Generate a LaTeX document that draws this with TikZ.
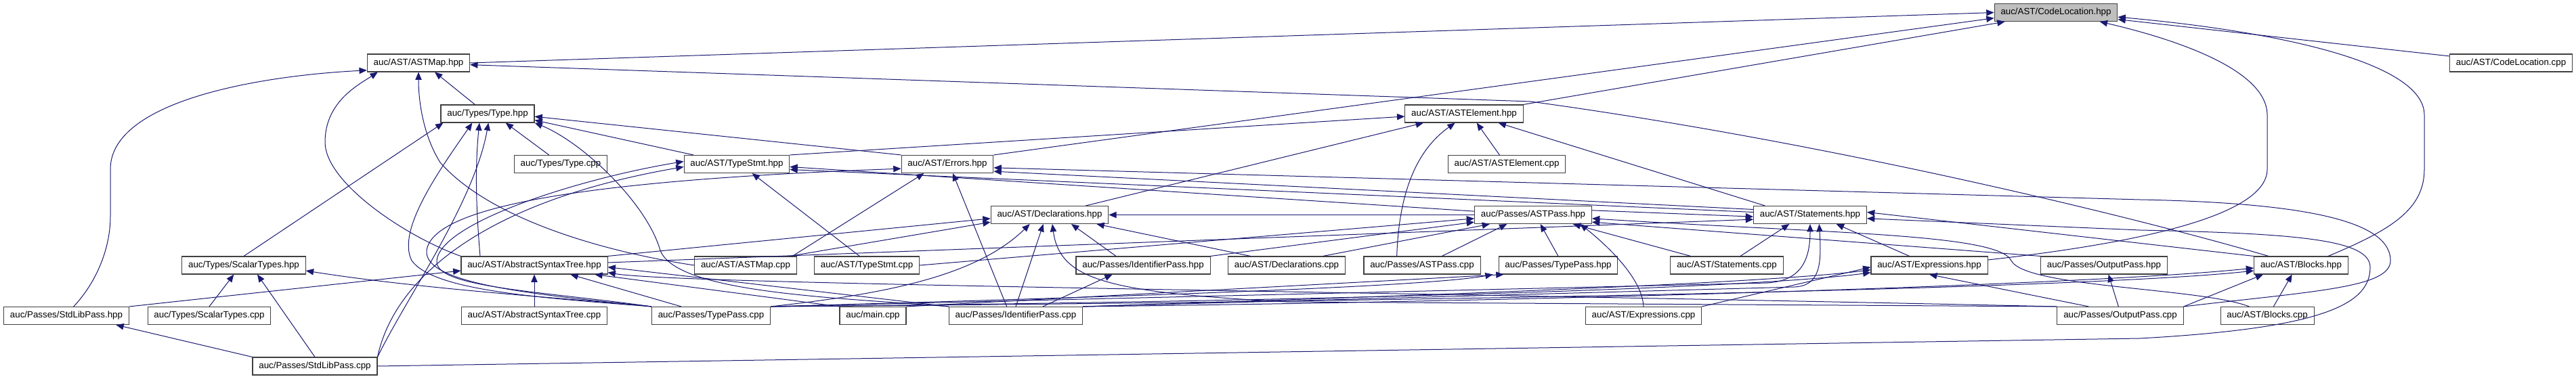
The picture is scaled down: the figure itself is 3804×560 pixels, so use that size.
\documentclass[tikz,border=0pt]{standalone}
\usepackage{fontspec}
\setmainfont{Liberation Sans}
\usetikzlibrary{arrows.meta}
\definecolor{EdgeBlue}{HTML}{191970}
\definecolor{BoxLine}{HTML}{404040}
\definecolor{RootGray}{HTML}{BFBFBF}

\begin{document}
\begin{tikzpicture}[
  x=0.75pt, y=-0.75pt,
  file/.style={draw=BoxLine, line width=0.8pt, fill=white, inner xsep=7pt, inner ysep=0pt,
               minimum height=19.5pt, font=\fontsize{10}{12}\selectfont},
  root/.style={file, fill=RootGray},
  dep/.style={EdgeBlue, line width=0.75pt, -{Triangle[length=8.5pt, width=7pt]}},
]
  \useasboundingbox (0,0) rectangle (3804,560);

  \node[root] (clh)         at (3036,18.5)  {auc/AST/CodeLocation.hpp};
  \node[file] (clcpp)       at (3708,93)    {auc/AST/CodeLocation.cpp};
  \node[file] (astmaph)     at (618,93)     {auc/AST/ASTMap.hpp};
  \node[file] (typeh)       at (720,168)    {auc/Types/Type.hpp};
  \node[file] (astelemh)    at (2162,168)   {auc/AST/ASTElement.hpp};
  \node[file] (typecpp)     at (828,242.5)  {auc/Types/Type.cpp};
  \node[file] (typestmth)   at (1088,242.5) {auc/AST/TypeStmt.hpp};
  \node[file] (errorsh)     at (1399,242.5) {auc/AST/Errors.hpp};
  \node[file] (astelemcpp)  at (2225,242.5) {auc/AST/ASTElement.cpp};
  \node[file] (declh)       at (1550,317.5) {auc/AST/Declarations.hpp};
  \node[file] (astpassh)    at (2264,317.5) {auc/Passes/ASTPass.hpp};
  \node[file] (stmth)       at (2673,317.5) {auc/AST/Statements.hpp};
  \node[file] (scalarh)     at (360,392)    {auc/Types/ScalarTypes.hpp};
  \node[file] (asth)        at (789,392)    {auc/AST/AbstractSyntaxTree.hpp};
  \node[file] (astmapcpp)   at (1101,392)   {auc/AST/ASTMap.cpp};
  \node[file] (typestmtcpp) at (1280,392)   {auc/AST/TypeStmt.cpp};
  \node[file] (identpassh)  at (1688,392)   {auc/Passes/IdentifierPass.hpp};
  \node[file] (declcpp)     at (1900,392)   {auc/AST/Declarations.cpp};
  \node[file] (astpasscpp)  at (2100,392)   {auc/Passes/ASTPass.cpp};
  \node[file] (typepassh)   at (2301,392)   {auc/Passes/TypePass.hpp};
  \node[file] (stmtcpp)     at (2550,392)   {auc/AST/Statements.cpp};
  \node[file] (exprh)       at (2849,392)   {auc/AST/Expressions.hpp};
  \node[file] (outputpassh) at (3107,392)   {auc/Passes/OutputPass.hpp};
  \node[file] (blocksh)     at (3398,392)   {auc/AST/Blocks.hpp};
  \node[file] (stdlibh)     at (98,466.5)   {auc/Passes/StdLibPass.hpp};
  \node[file] (scalarcpp)   at (309,466.5)  {auc/Types/ScalarTypes.cpp};
  \node[file] (astcpp)      at (789,466.5)  {auc/AST/AbstractSyntaxTree.cpp};
  \node[file] (typepasscpp) at (1050,466.5) {auc/Passes/TypePass.cpp};
  \node[file] (maincpp)     at (1289,466.5) {auc/main.cpp};
  \node[file] (identpasscpp) at (1500,466.5) {auc/Passes/IdentifierPass.cpp};
  \node[file] (exprcpp)     at (2427,466.5) {auc/AST/Expressions.cpp};
  \node[file] (outputpasscpp) at (3131,466.5) {auc/Passes/OutputPass.cpp};
  \node[file] (blockscpp)   at (3348,466.5) {auc/AST/Blocks.cpp};
  \node[file] (stdlibcpp)   at (465,541)    {auc/Passes/StdLibPass.cpp};

  \draw[dep] (clcpp) -- (clh);
  \draw[dep] (astmaph.east) -- (clh.west);
  \draw[dep] (errorsh.north east) -- ([yshift=4pt]clh.south west);
  \draw[dep] (astelemh.north east) -- ([xshift=12pt]clh.south west);
  \draw[dep] ([xshift=30pt]blocksh.north) .. controls (3530,340) and (3580,310) .. (3580,250) -- (3580,170) .. controls (3580,90) and (3350,45) .. ([yshift=-5pt]clh.east);
  \draw[dep] ([yshift=6pt]exprh.east) .. controls (3150,360) and (3348,320) .. (3348,250) -- (3348,170) .. controls (3348,100) and (3200,55) .. ([xshift=-20pt]clh.south east);

  \draw[dep] ([xshift=-14pt]typeh.north) -- ([xshift=18pt]astmaph.south);
  \draw[dep] ([xshift=-36pt]blocksh.north) .. controls (3150,320) and (2700,210) .. (2260,150) -- ([yshift=-2pt]astmaph.east);
  \draw[dep] ([xshift=8pt]stdlibh.north) .. controls (140,420) and (163,370) .. (163,320) -- (163,250) .. controls (163,150) and (380,112) .. ([yshift=2pt]astmaph.south west);
  \draw[dep] (asth.north west) .. controls (600,350) and (480,270) .. (480,210) .. controls (480,150) and (530,125) .. ([xshift=12pt]astmaph.south west);
  \draw[dep] (astmapcpp.west) .. controls (880,370) and (720,320) .. (650,240) .. controls (625,200) and (618,150) .. (astmaph.south);

  \draw[dep] (scalarh.north) -- ([xshift=3pt]typeh.south west);
  \draw[dep] ([xshift=-13pt]typecpp.north) -- ([xshift=20pt]typeh.south);
  \draw[dep] ([xshift=-48pt]typestmth.north) -- ([yshift=3pt]typeh.south east);
  \draw[dep] (errorsh.north west) -- ([yshift=7pt]typeh.south east);
  \draw[dep] (typepasscpp.north west) .. controls (800,440) and (640,430) .. (608,385) .. controls (585,340) and (650,250) .. ([xshift=-17pt]typeh.south);
  \draw[dep] ([xshift=-60pt]asth.north) .. controls (705,330) and (700,260) .. ([xshift=-9pt]typeh.south);
  \draw[dep] (stdlibcpp.north east) .. controls (600,440) and (700,300) .. ([xshift=1pt]typeh.south);
  \draw[dep] (identpasscpp.north west) .. controls (1250,440) and (1000,435) .. (975,370) .. controls (955,300) and (860,210) .. (typeh.south east);

  \draw[dep] (scalarcpp.north) -- ([xshift=-11pt]scalarh.south);
  \draw[dep] (stdlibcpp.north) -- ([xshift=15pt]scalarh.south);
  \draw[dep] (typepasscpp.north west) .. controls (900,445) and (640,430) .. ([yshift=-6pt]scalarh.east);
  \draw[dep] (stdlibcpp.north west) -- ([xshift=55pt]stdlibh.south);

  \draw[dep] (stdlibh.north east) -- ([yshift=-6pt]asth.west);
  \draw[dep] (astcpp) -- (asth);
  \draw[dep] ([xshift=-33pt]typepasscpp.north) -- ([xshift=40pt]asth.south);
  \draw[dep] (maincpp.north west) -- ([xshift=67pt]asth.south);
  \draw[dep] (identpasscpp.north west) -- ([yshift=-2pt]asth.east);
  \draw[dep] (outputpasscpp.north west) .. controls (2000,430) and (1000,420) .. ([yshift=-8pt]asth.east);

  \draw[dep] (typestmth.north east) -- ([yshift=-3pt]astelemh.west);
  \draw[dep] ([xshift=40pt]declh.north) -- ([xshift=-45pt]astelemh.south);
  \draw[dep] ([xshift=-28pt]astpasscpp.north) .. controls (2065,310) and (2080,230) .. ([xshift=-10pt]astelemh.south);
  \draw[dep] ([xshift=-8pt]astelemcpp.north) -- ([xshift=14pt]astelemh.south);
  \draw[dep] ([xshift=-50pt]stmth.north) -- ([xshift=38pt]astelemh.south);

  \draw[dep] ([xshift=-8pt]typestmtcpp.north) -- ([xshift=17pt]typestmth.south);
  \draw[dep] (typepasscpp.north west) .. controls (800,430) and (640,425) .. (645,385) .. controls (650,330) and (850,265) .. ([yshift=3pt]typestmth.west);
  \draw[dep] (stdlibcpp.north east) .. controls (580,420) and (700,300) .. ([yshift=-3pt]typestmth.west);
  \draw[dep] ([yshift=4pt]astpassh.west) -- ([yshift=-3pt]typestmth.east);
  \draw[dep] ([yshift=3pt]stmth.west) -- ([yshift=-6pt]typestmth.east);

  \draw[dep] ([xshift=-5pt]astmapcpp.north east) -- ([xshift=-26pt]errorsh.south);
  \draw[dep] ([xshift=-10pt]identpasscpp.north) -- ([xshift=6pt]errorsh.south);
  \draw[dep] (typepasscpp.north west) .. controls (790,435) and (625,420) .. (630,370) .. controls (640,300) and (900,265) .. ([yshift=-5pt]errorsh.west);
  \draw[dep] (outputpasscpp.north east) .. controls (3420,430) and (3530,425) .. (3530,385) .. controls (3530,330) and (3420,300) .. (3160,295) -- ([yshift=-4pt]errorsh.east);
  \draw[dep] ([yshift=6pt]stmth.west) -- ([yshift=-8pt]errorsh.east);

  \draw[dep] (asth.north east) -- ([yshift=-4pt]declh.west);
  \draw[dep] ([xshift=-8pt]astmapcpp.north east) -- ([yshift=-8pt]declh.west);
  \draw[dep] (typepasscpp.north east) .. controls (1300,435) and (1440,410) .. ([xshift=-22pt]declh.south);
  \draw[dep] (identpasscpp.north) -- ([xshift=-7pt]declh.south);
  \draw[dep] ([xshift=-30pt]identpassh.north) -- ([xshift=24pt]declh.south);
  \draw[dep] ([xshift=-40pt]declcpp.north) -- ([xshift=52pt]declh.south);
  \draw[dep] (astpassh.west) -- (declh.east);
  \draw[dep] (outputpasscpp.north west) -- (1900,446) .. controls (1640,432) and (1565,415) .. ([xshift=3pt]declh.south);

  \draw[dep] (typestmtcpp.east) -- ([yshift=-4pt]astpassh.west);
  \draw[dep] ([xshift=40pt]declcpp.north) -- ([xshift=-48pt]astpassh.south);
  \draw[dep] (identpassh.north east) -- ([yshift=-8pt]astpassh.west);
  \draw[dep] ([xshift=22pt]astpasscpp.north) -- ([xshift=-29pt]astpassh.south);
  \draw[dep] (typepassh.north) -- ([xshift=8pt]astpassh.south);
  \draw[dep] (exprcpp.north) .. controls (2425,410) and (2370,360) .. ([xshift=52pt]astpassh.south);
  \draw[dep] ([xshift=-40pt]stmtcpp.north) -- ([xshift=44pt]astpassh.south);
  \draw[dep] (outputpassh.north west) -- ([yshift=-8pt]astpassh.east);
  \draw[dep] ([xshift=-20pt]blockscpp.north) .. controls (3250,425) and (2990,425) .. (2970,385) .. controls (2950,345) and (2700,345) .. ([yshift=-4pt]astpassh.east);

  \draw[dep] ([yshift=5pt]astpassh.east) -- ([yshift=-2pt]stmth.west);
  \draw[dep] ([yshift=3pt]asth.east) -- ([yshift=-5pt]stmth.west);
  \draw[dep] ([xshift=15pt]stmtcpp.north) -- ([xshift=-23pt]stmth.south);
  \draw[dep] ([xshift=-22pt]exprh.north) -- ([xshift=29pt]stmth.south);
  \draw[dep] (blocksh.north west) -- ([yshift=3pt]stmth.east);
  \draw[dep] (stdlibcpp.east) -- (3160,500) .. controls (3430,485) and (3500,450) .. (3500,395) .. controls (3500,355) and (3400,345) .. (3160,340) -- ([yshift=-4pt]stmth.east);
  \draw[dep] (typepasscpp.north east) -- (2610,418) .. controls (2655,415) and (2673,390) .. (stmth.south);
  \draw[dep] (identpasscpp.north east) -- (2650,424) .. controls (2688,422) and (2690,390) .. ([xshift=10pt]stmth.south);

  \draw[dep] (exprcpp.north east) -- ([yshift=-2pt]exprh.west);
  \draw[dep] ([xshift=-35pt]outputpasscpp.north) -- (exprh.south);
  \draw[dep] (typepasscpp.north east) .. controls (2000,445) and (2600,425) .. ([yshift=-8pt]exprh.west);
  \draw[dep] (identpasscpp.north east) .. controls (2000,440) and (2600,420) .. ([yshift=-5pt]exprh.west);

  \draw[dep] ([xshift=30pt]identpasscpp.north) -- ([xshift=-34pt]identpassh.south);
  \draw[dep] (typepasscpp.north east) .. controls (1600,440) and (2100,425) .. ([xshift=-6pt]typepassh.south west);
  \draw[dep] (maincpp.north east) -- ([xshift=6pt]typepassh.south west);
  \draw[dep] ([xshift=-2pt]outputpasscpp.north) -- ([xshift=5pt]outputpassh.south);

  \draw[dep] ([xshift=7pt]blockscpp.north) -- ([xshift=-10pt]blocksh.south);
  \draw[dep] (outputpasscpp.north east) -- ([xshift=-42pt]blocksh.south);
  \draw[dep] (typepasscpp.north east) .. controls (2200,445) and (3100,425) .. ([yshift=-6pt]blocksh.west);
  \draw[dep] (identpasscpp.north east) .. controls (2300,445) and (3100,420) .. ([yshift=-3pt]blocksh.west);
\end{tikzpicture}
\end{document}
